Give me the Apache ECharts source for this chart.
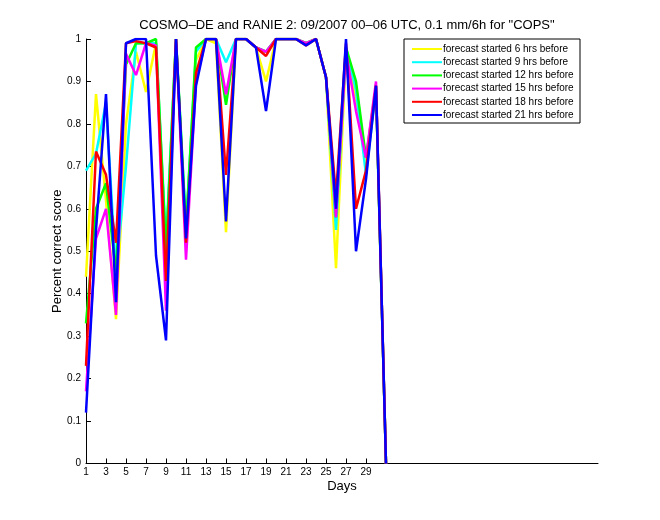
<!DOCTYPE html>
<html>
<head>
<meta charset="utf-8">
<script src="https://cdn.jsdelivr.net/npm/echarts@6/dist/echarts.min.js"></script>
<style>html,body{margin:0;padding:0;background:#fff;}#c{width:660px;height:520px;}</style>
</head>
<body>
<div id="c"></div>
<script>
const days = [1,2,3,4,5,6,7,8,9,10,11,12,13,14,15,16,17,18,19,20,21,22,23,24,25,26,27,28,29,30,31];
const xTickLabels = [1,3,5,7,9,11,13,15,17,19,21,23,25,27,29];
const seriesNames = ['forecast started 6 hrs before','forecast started 9 hrs before','forecast started 12 hrs before','forecast started 15 hrs before','forecast started 18 hrs before','forecast started 21 hrs before'];
const h6  = [0.44,0.87,0.62,0.34,0.80,0.97,0.875,0.99,0.50,1.00,0.55,0.95,1.00,0.99,0.545,1.00,1.00,0.98,0.90,1.00,1.00,1.00,0.99,1.00,0.91,0.46,0.97,0.86,0.70,0.88,0.00];
const h9  = [0.69,0.73,0.85,0.45,0.70,0.99,0.99,0.99,0.52,1.00,0.56,0.97,1.00,1.00,0.945,1.00,1.00,0.98,0.97,1.00,1.00,1.00,0.99,1.00,0.91,0.55,0.98,0.88,0.68,0.88,0.00];
const h12 = [0.33,0.60,0.66,0.45,0.94,0.99,0.99,1.00,0.50,1.00,0.55,0.98,1.00,1.00,0.845,1.00,1.00,0.98,0.97,1.00,1.00,1.00,0.99,1.00,0.91,0.58,0.98,0.90,0.72,0.89,0.00];
const h15 = [0.17,0.53,0.60,0.35,0.965,0.915,0.99,0.985,0.36,1.00,0.48,0.90,1.00,1.00,0.87,1.00,1.00,0.98,0.97,1.00,1.00,1.00,0.99,1.00,0.91,0.58,0.97,0.83,0.72,0.90,0.00];
const h18 = [0.23,0.735,0.68,0.52,0.99,0.995,0.99,0.98,0.43,1.00,0.52,0.92,1.00,1.00,0.68,1.00,1.00,0.98,0.96,1.00,1.00,1.00,0.985,1.00,0.91,0.63,0.99,0.60,0.69,0.89,0.00];
const h21 = [0.12,0.55,0.87,0.38,0.99,1.00,1.00,0.49,0.29,1.00,0.53,0.89,1.00,1.00,0.57,1.00,1.00,0.98,0.83,1.00,1.00,1.00,0.985,1.00,0.91,0.60,1.00,0.50,0.67,0.89,0.00];
const colors = ['#ffff00','#00ffff','#00ff00','#ff00ff','#ff0000','#0000ff'];
const allValues = [h6,h9,h12,h15,h18,h21];

const font = 'Liberation Sans, Arial, sans-serif';
const chart = echarts.init(document.getElementById('c'));
chart.setOption({
  animation: false,
  backgroundColor: '#fff',
  title: {
    text: 'COSMO\u2013DE and RANIE 2: 09/2007 00\u201306 UTC, 0.1 mm/6h for "COPS"',
    left: 342, textAlign: 'center', top: 14,
    textStyle: {fontFamily: font, fontSize: 13, fontWeight: 'normal', color: '#000'}
  },
  legend: {
    orient: 'vertical', left: 404, top: 39,
    padding: [4.5, 5, 2.5, 8],
    itemGap: 2.2,
    itemWidth: 30, itemHeight: 2,
    borderColor: '#000', borderWidth: 1,
    backgroundColor: '#fff',
    icon: 'rect',
    textStyle: {fontFamily: font, fontSize: 10, color: '#000', lineHeight: 11, width: 132, padding: [0,0,0,-4]},
    data: seriesNames
  },
  grid: {left: 86, right: 62, top: 39, bottom: 56.5, containLabel: false},
  xAxis: {
    type: 'value', min: 1, max: 52.2,
    name: 'Days', nameLocation: 'middle', nameGap: 16, nameMoveOverlap: false,
    nameTextStyle: {fontFamily: font, fontSize: 13, color: '#000'},
    axisLine: {lineStyle: {color: '#000', width: 1}},
    axisTick: {inside: true, length: 5, lineStyle: {color: '#000'}, customValues: xTickLabels},
    axisLabel: {fontFamily: font, fontSize: 10, color: '#000', margin: 4, customValues: xTickLabels},
    splitLine: {show: false}
  },
  yAxis: {
    type: 'value', min: 0, max: 1, interval: 0.1,
    name: 'Percent correct score', nameLocation: 'middle', nameGap: 22, nameMoveOverlap: false,
    nameTextStyle: {fontFamily: font, fontSize: 13, color: '#000'},
    axisLine: {show: true, lineStyle: {color: '#000', width: 1}},
    axisTick: {show: true, inside: true, length: 5, lineStyle: {color: '#000'}},
    axisLabel: {fontFamily: font, fontSize: 10, color: '#000', margin: 5},
    splitLine: {show: false}
  },
  series: seriesNames.map((n, i) => ({
    name: n, type: 'line', showSymbol: false, symbol: 'none',
    color: colors[i],
    lineStyle: {width: 2.5, color: colors[i]},
    data: days.map((d, k) => [d, allValues[i][k]])
  }))
});
</script>
</body>
</html>
